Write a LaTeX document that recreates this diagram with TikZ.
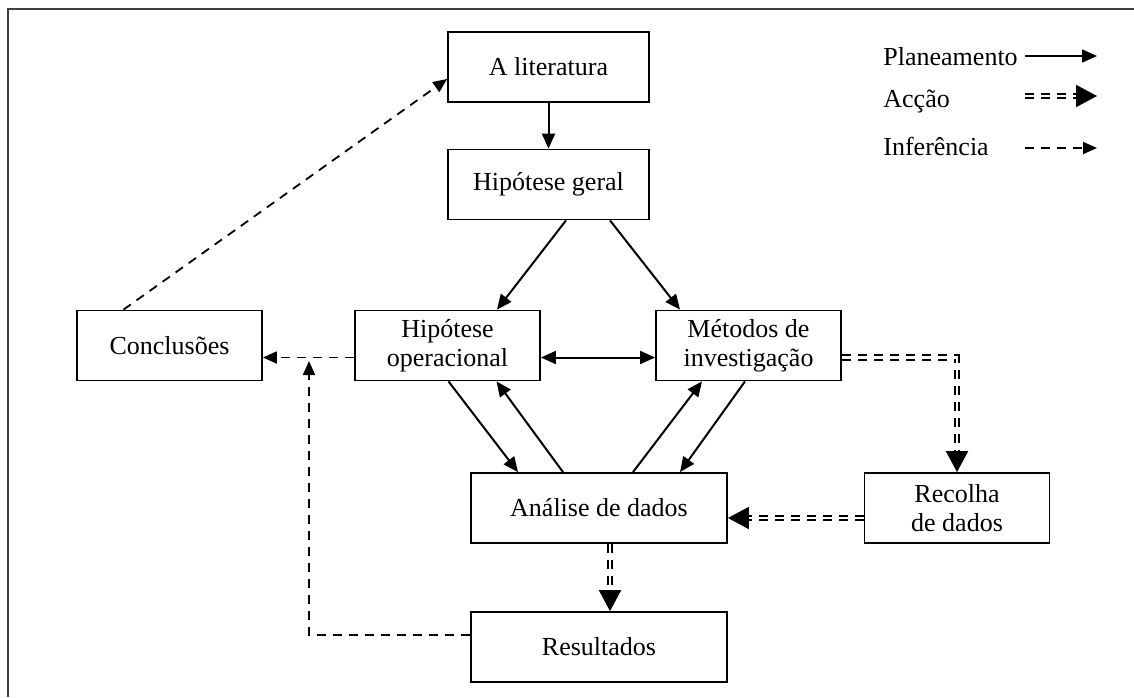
\documentclass[tikz,border=0pt]{standalone}
\usepackage{fontspec}
\setmainfont{Liberation Serif}
\usetikzlibrary{arrows.meta,calc}

\begin{document}
\begin{tikzpicture}[
    x=0.5pt, y=-0.5pt,
    box/.style={rectangle, draw, line width=0.9pt, minimum width=92.5pt, minimum height=35pt, align=center, inner sep=2pt, font=\fontsize{13}{14.5}\selectfont},
    wide/.style={box, minimum width=128pt},
    plan/.style={line width=1pt, -{Triangle[length=7.5pt,width=6.5pt]}},
    action/.style={double, double distance=1.3pt, line width=0.95pt, dash pattern=on 4.5pt off 3.5pt, -{Triangle[length=10.5pt,width=11pt]}},
    infer/.style={line width=0.9pt, dash pattern=on 4.5pt off 3.5pt, -{Triangle[length=7pt,width=6pt]}},
    legend/.style={anchor=base west, inner sep=0pt, font=\fontsize{13}{14.5}\selectfont}
]
\useasboundingbox (0,0) rectangle (1134,697);
\draw[line width=1pt, black!75] (8,697) -- (8,9) -- (1134,9);

\node[box, minimum width=100.5pt] (lit) at (548.5,67) {A literatura};
\node[box, minimum width=100.5pt] (geral) at (548.5,184.5) {Hipótese geral};
\node[box] (concl) at (169.5,345.5) {Conclusões};
\node[box] (hop) at (447.5,345.5) {Hipótese\\operacional};
\node[box] (met) at (748.5,345.5) {Métodos de\\investigação};
\node[wide] (anal) at (599,508) {Análise de dados};
\node[box] (recolha) at (957,508) {Recolha\\de dados};
\node[wide] (result) at (599,647) {Resultados};

\node[legend] (lplan) at (883,65) {Planeamento};
\node[legend] (lact) at (883,107) {Acção};
\node[legend] (linf) at (883,155) {Inferência};
\coordinate (plan1) at (1025,56);
\coordinate (plan2) at (1097,56);
\coordinate (act1) at (1025,96);
\coordinate (act2) at (1097,96);
\coordinate (inf1) at (1025,148);
\coordinate (inf2) at (1097,148);
\coordinate (meet) at (309,361);

\draw[plan] (plan1) -- (plan2);
\draw[action] (act1) -- (act2);
\draw[infer] (inf1) -- (inf2);

\draw[plan] (lit) -- (geral);
\draw[plan] ($(geral.south)+(17.5,0)$) -- ($(hop.north)+(49.5,0)$);
\draw[plan] ($(geral.south)+(61.5,0)$) -- ($(met.north)+(-68.5,0)$);
\draw[plan, {Triangle[length=7.5pt,width=6.5pt]}-{Triangle[length=7.5pt,width=6.5pt]}] ($(hop.east)+(0,12)$) -- ($(met.west)+(0,12)$);
\draw[plan] ($(hop.south)+(1,0)$) -- ($(anal.north)+(-81,0)$);
\draw[plan] ($(anal.north)+(-36,0)$) -- ($(hop.south)+(49,0)$);
\draw[plan] ($(anal.north)+(34,0)$) -- ($(met.south)+(-46.5,0)$);
\draw[plan] ($(met.south)+(-3.5,0)$) -- ($(anal.north)+(81,0)$);

\draw[infer] ($(hop.west)+(0,12)$) -- ($(concl.east)+(0,12)$);
\draw[infer] ($(result.west)+(0,-12)$) -| (meet);
\draw[infer] ($(concl.north)+(-46,0)$) -- ($(lit.west)+(0,12)$);

\draw[action] ($(met.east)+(0,12)$) -| (recolha.north);
\draw[action] ($(recolha.west)+(0,10)$) -- ($(anal.east)+(0,10)$);
\draw[action] ($(anal.south)+(11,0)$) -- ($(result.north)+(11,0)$);
\end{tikzpicture}
\end{document}
